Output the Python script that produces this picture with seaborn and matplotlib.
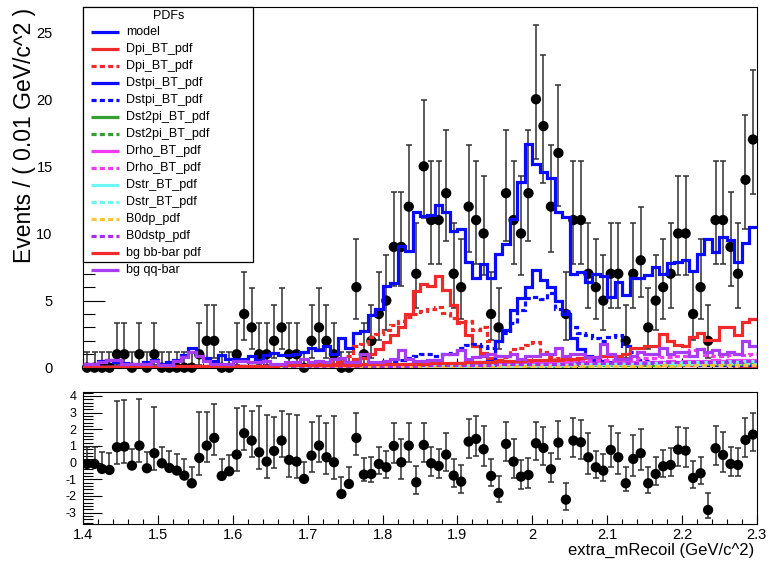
import math
import numpy as np
import pandas as pd
import matplotlib
matplotlib.use("Agg")
import matplotlib.pyplot as plt
from matplotlib.patches import Rectangle
from matplotlib.ticker import MultipleLocator, FuncFormatter
import seaborn as sns

# ---------------------------------------------------------------- binning
X_MIN, X_MAX, N_BINS = 1.4, 2.3, 90

# ---------------------------------------------------------------- data (events per 0.01 GeV/c^2)
counts = [0, 0, 0, 0, 1, 1, 0, 1, 0, 1,
          0, 0, 0, 0, 0, 1, 2, 2, 0, 0,
          1, 4, 3, 1, 1, 2, 3, 1, 1, 0,
          2, 3, 2, 1, 0, 0, 6, 1, 2, 4,
          5, 9, 9, 12, 7, 15, 11, 11, 13, 7,
          6, 12, 11, 10, 4, 3, 13, 11, 10, 13,
          20, 18, 12, 16, 4, 11, 11, 7, 6, 5,
          7, 7, 2, 7, 8, 3, 5, 6, 7, 10,
          10, 4, 6, 2, 11, 11, 9, 7, 14, 17]

# pull of data w.r.t. the total model
pulls = [-0.08, -0.08, -0.38, -0.44, 0.92, 0.96, -0.18, 1.02, -0.34, 0.56,
         -0.04, -0.32, -0.48, -0.78, -1.24, 0.28, 1.02, 1.48, -0.80, -0.52,
         0.48, 1.76, 1.32, 0.62, 0.06, 0.70, 1.32, 0.16, 0.06, -0.98,
         0.42, 1.02, 0.32, 0.02, -1.88, -1.28, 1.48, -0.72, -0.68, -0.08,
         -0.28, 1.00, 0.02, 1.02, -1.18, 1.06, -0.04, -0.20, 0.48, -0.78,
         -1.14, 1.26, 1.42, 0.80, -0.80, -1.82, 1.12, 0.06, -0.84, -0.74,
         1.16, 0.88, -0.40, 1.20, -2.22, 1.32, 1.22, 0.32, -0.28, -0.48,
         0.76, 0.32, -1.24, 0.22, 0.56, -1.24, -0.68, -0.22, -0.14, 0.78,
         0.72, -0.92, -0.64, -2.84, 0.86, 0.46, -0.08, -0.14, 1.36, 1.68]

# ---------------------------------------------------------------- fitted pdfs (per bin)
model = [0.30, 0.30, 0.50, 0.55, 0.45, 0.35, 0.30, 0.30, 0.40, 0.55,
         0.30, 0.40, 0.60, 0.95, 1.45, 0.85, 0.70, 0.50, 0.95, 0.65,
         0.65, 0.65, 0.90, 0.55, 0.95, 1.10, 0.95, 0.95, 1.00, 1.15,
         1.45, 1.35, 1.60, 1.00, 2.20, 1.50, 2.60, 2.70, 3.90, 4.40,
         6.10, 6.30, 9.10, 8.70, 11.6, 11.3, 11.4, 12.1, 11.6, 10.2,
         10.3, 7.90, 6.70, 7.70, 6.70, 8.50, 9.20, 11.1, 13.8, 16.7,
         15.2, 14.6, 14.1, 11.6, 11.2, 7.00, 7.10, 6.40, 7.00, 6.80,
         5.30, 6.40, 5.40, 6.70, 6.70, 6.90, 7.50, 7.00, 7.80, 7.90,
         8.00, 7.20, 8.50, 9.60, 8.60, 9.70, 9.50, 7.90, 9.30, 10.5]

dpi_solid = [0.05, 0.05, 0.05, 0.05, 0.05, 0.06, 0.06, 0.06, 0.07, 0.07,
             0.07, 0.08, 0.08, 0.08, 0.09, 0.09, 0.10, 0.10, 0.10, 0.11,
             0.11, 0.12, 0.12, 0.13, 0.13, 0.14, 0.15, 0.16, 0.17, 0.18,
             0.20, 0.25, 0.30, 0.30, 0.40, 0.45, 0.65, 0.75, 1.00, 1.40,
             1.90, 2.40, 3.00, 4.00, 5.70, 6.20, 6.10, 6.80, 5.80, 4.70,
             3.40, 2.40, 1.60, 1.10, 0.70, 0.55, 0.50, 0.45, 0.45, 0.40,
             0.40, 0.38, 0.36, 0.35, 0.34, 0.33, 0.32, 0.31, 0.30, 0.29,
             0.28, 0.27, 0.26, 0.25, 0.25, 0.24, 0.23, 0.22, 0.22, 0.21,
             0.20, 0.20, 0.19, 0.19, 0.18, 0.18, 0.17, 0.17, 0.16, 0.16]

dpi_dashed = [0.03, 0.03, 0.03, 0.04, 0.04, 0.04, 0.04, 0.05, 0.05, 0.05,
              0.06, 0.06, 0.06, 0.07, 0.07, 0.08, 0.08, 0.09, 0.09, 0.10,
              0.10, 0.11, 0.12, 0.12, 0.13, 0.14, 0.15, 0.16, 0.18, 0.20,
              0.22, 0.25, 0.30, 0.40, 0.60, 0.90, 1.60, 1.80, 2.30, 2.50,
              2.80, 3.20, 3.50, 3.80, 4.00, 4.20, 4.40, 4.50, 4.10, 3.70,
              3.30, 3.50, 2.80, 3.00, 2.00, 0.90, 0.80, 1.40, 1.50, 1.70,
              1.90, 1.20, 0.80, 0.70, 0.60, 0.50, 0.50, 0.40, 0.40, 0.35,
              0.30, 0.30, 0.28, 0.27, 0.26, 0.25, 0.24, 0.23, 0.22, 0.21,
              0.20, 0.20, 0.19, 0.18, 0.18, 0.17, 0.17, 0.16, 0.16, 0.15]

dstpi_solid = [0.03, 0.03, 0.03, 0.03, 0.04, 0.04, 0.04, 0.04, 0.05, 0.05,
               0.05, 0.05, 0.06, 0.06, 0.06, 0.07, 0.07, 0.07, 0.08, 0.08,
               0.08, 0.09, 0.09, 0.10, 0.10, 0.10, 0.11, 0.11, 0.12, 0.12,
               0.13, 0.13, 0.14, 0.15, 0.15, 0.16, 0.17, 0.18, 0.19, 0.20,
               0.21, 0.22, 0.23, 0.24, 0.25, 0.26, 0.27, 0.28, 0.30, 0.30,
               0.32, 0.35, 0.40, 0.40, 0.50, 2.00, 2.80, 4.30, 5.20, 6.00,
               7.30, 6.50, 6.00, 5.00, 4.00, 2.20, 1.40, 0.90, 0.60, 0.50,
               0.45, 0.40, 0.38, 0.35, 0.33, 0.30, 0.29, 0.28, 0.27, 0.26,
               0.25, 0.24, 0.23, 0.22, 0.21, 0.20, 0.20, 0.19, 0.18, 0.18]

dstpi_dashed = [0.05, 0.05, 0.05, 0.05, 0.06, 0.06, 0.06, 0.07, 0.07, 0.07,
                0.08, 0.08, 0.08, 0.09, 0.09, 0.10, 0.10, 0.10, 0.11, 0.11,
                0.12, 0.12, 0.13, 0.13, 0.14, 0.14, 0.15, 0.16, 0.16, 0.17,
                0.18, 0.19, 0.20, 0.21, 0.22, 0.24, 0.26, 0.28, 0.30, 0.35,
                0.40, 0.50, 0.60, 0.70, 0.90, 1.00, 1.00, 0.90, 1.00, 1.10,
                1.50, 1.70, 1.80, 1.60, 1.50, 2.00, 2.60, 3.30, 4.30, 5.20,
                5.30, 5.10, 5.60, 4.40, 4.20, 3.00, 2.60, 2.40, 2.20, 2.00,
                2.30, 2.40, 1.60, 1.20, 0.60, 0.50, 0.45, 0.40, 0.38, 0.36,
                0.35, 0.34, 0.33, 0.32, 0.31, 0.30, 0.30, 0.29, 0.28, 0.28]

dst2pi_solid = [0.01, 0.01, 0.02, 0.01, 0.01, 0.02, 0.01, 0.02, 0.02, 0.01,
                0.02, 0.02, 0.03, 0.02, 0.03, 0.02, 0.03, 0.03, 0.02, 0.04,
                0.03, 0.04, 0.03, 0.05, 0.04, 0.04, 0.06, 0.05, 0.04, 0.06,
                0.05, 0.07, 0.06, 0.05, 0.08, 0.07, 0.06, 0.09, 0.08, 0.07,
                0.10, 0.09, 0.08, 0.11, 0.10, 0.12, 0.10, 0.13, 0.11, 0.12,
                0.14, 0.12, 0.15, 0.13, 0.16, 0.14, 0.17, 0.15, 0.18, 0.16,
                0.19, 0.17, 0.20, 0.18, 0.22, 0.20, 0.23, 0.21, 0.25, 0.22,
                0.26, 0.24, 0.28, 0.25, 0.30, 0.27, 0.31, 0.29, 0.33, 0.30,
                0.35, 0.32, 0.37, 0.34, 0.39, 0.36, 0.42, 0.38, 0.44, 0.41]

dst2pi_dashed = [0.01, 0.01, 0.01, 0.01, 0.01, 0.01, 0.02, 0.01, 0.01, 0.02,
                 0.01, 0.02, 0.02, 0.01, 0.02, 0.02, 0.02, 0.03, 0.02, 0.02,
                 0.03, 0.02, 0.03, 0.03, 0.04, 0.03, 0.03, 0.04, 0.04, 0.03,
                 0.05, 0.04, 0.04, 0.06, 0.05, 0.05, 0.07, 0.05, 0.06, 0.07,
                 0.06, 0.08, 0.07, 0.07, 0.09, 0.08, 0.09, 0.10, 0.08, 0.10,
                 0.11, 0.09, 0.11, 0.12, 0.10, 0.13, 0.12, 0.11, 0.14, 0.13,
                 0.13, 0.15, 0.14, 0.16, 0.15, 0.14, 0.17, 0.16, 0.18, 0.17,
                 0.19, 0.18, 0.20, 0.19, 0.22, 0.20, 0.23, 0.22, 0.24, 0.23,
                 0.26, 0.24, 0.27, 0.26, 0.29, 0.27, 0.30, 0.29, 0.32, 0.30]

drho_solid = [0.02, 0.02, 0.03, 0.02, 0.03, 0.03, 0.02, 0.03, 0.04, 0.03,
              0.04, 0.03, 0.04, 0.05, 0.04, 0.05, 0.05, 0.04, 0.06, 0.05,
              0.06, 0.07, 0.06, 0.07, 0.08, 0.07, 0.09, 0.08, 0.09, 0.10,
              0.10, 0.11, 0.12, 0.11, 0.13, 0.14, 0.13, 0.15, 0.16, 0.15,
              0.17, 0.18, 0.17, 0.19, 0.20, 0.21, 0.20, 0.22, 0.23, 0.22,
              0.24, 0.25, 0.26, 0.25, 0.27, 0.28, 0.27, 0.29, 0.30, 0.29,
              0.31, 0.32, 0.31, 0.33, 0.34, 0.35, 0.33, 0.36, 0.37, 0.36,
              0.38, 0.40, 0.39, 0.41, 0.43, 0.42, 0.45, 0.44, 0.47, 0.46,
              0.49, 0.48, 0.52, 0.50, 0.54, 0.53, 0.56, 0.55, 0.58, 0.60]

drho_dashed = [0.02, 0.02, 0.02, 0.03, 0.02, 0.03, 0.03, 0.02, 0.03, 0.03,
               0.03, 0.04, 0.03, 0.04, 0.04, 0.05, 0.04, 0.05, 0.05, 0.06,
               0.05, 0.06, 0.07, 0.06, 0.07, 0.08, 0.07, 0.08, 0.09, 0.09,
               0.10, 0.10, 0.11, 0.12, 0.12, 0.13, 0.14, 0.14, 0.15, 0.16,
               0.17, 0.18, 0.19, 0.20, 0.21, 0.22, 0.23, 0.24, 0.25, 0.26,
               0.28, 0.30, 0.35, 0.40, 0.38, 0.35, 0.33, 0.35, 0.40, 0.45,
               0.42, 0.40, 0.38, 0.40, 0.45, 0.48, 0.50, 0.55, 0.60, 0.58,
               0.55, 0.60, 0.65, 0.62, 0.70, 0.75, 0.72, 0.80, 0.78, 0.85,
               0.90, 1.30, 1.40, 0.95, 0.90, 0.85, 0.95, 1.00, 0.95, 1.05]

dstr_solid = [0.01, 0.01, 0.01, 0.02, 0.01, 0.02, 0.02, 0.01, 0.02, 0.02,
              0.02, 0.03, 0.02, 0.03, 0.03, 0.03, 0.04, 0.03, 0.04, 0.04,
              0.05, 0.04, 0.05, 0.05, 0.06, 0.05, 0.06, 0.07, 0.06, 0.07,
              0.08, 0.07, 0.08, 0.09, 0.08, 0.10, 0.09, 0.10, 0.11, 0.10,
              0.12, 0.11, 0.12, 0.13, 0.12, 0.14, 0.13, 0.15, 0.14, 0.16,
              0.15, 0.17, 0.16, 0.18, 0.17, 0.19, 0.18, 0.20, 0.21, 0.20,
              0.22, 0.21, 0.23, 0.24, 0.23, 0.25, 0.26, 0.25, 0.27, 0.28,
              0.29, 0.30, 0.29, 0.31, 0.33, 0.32, 0.34, 0.36, 0.35, 0.37,
              0.39, 0.38, 0.41, 0.43, 0.42, 0.45, 0.47, 0.46, 0.49, 0.52]

dstr_dashed = [0.01, 0.01, 0.01, 0.01, 0.01, 0.01, 0.01, 0.02, 0.01, 0.01,
               0.02, 0.02, 0.02, 0.02, 0.02, 0.03, 0.02, 0.03, 0.03, 0.03,
               0.03, 0.04, 0.03, 0.04, 0.04, 0.04, 0.05, 0.04, 0.05, 0.05,
               0.06, 0.05, 0.06, 0.06, 0.07, 0.06, 0.07, 0.08, 0.07, 0.08,
               0.09, 0.08, 0.09, 0.10, 0.09, 0.11, 0.10, 0.11, 0.12, 0.11,
               0.13, 0.12, 0.13, 0.14, 0.13, 0.15, 0.14, 0.16, 0.15, 0.17,
               0.16, 0.18, 0.17, 0.19, 0.18, 0.20, 0.19, 0.21, 0.22, 0.21,
               0.23, 0.22, 0.24, 0.25, 0.24, 0.26, 0.27, 0.26, 0.28, 0.29,
               0.30, 0.29, 0.31, 0.33, 0.32, 0.34, 0.35, 0.34, 0.36, 0.38]

b0dp = [0.01, 0.01, 0.01, 0.01, 0.01, 0.01, 0.01, 0.01, 0.01, 0.01,
        0.01, 0.01, 0.02, 0.01, 0.02, 0.01, 0.02, 0.02, 0.01, 0.02,
        0.02, 0.02, 0.02, 0.03, 0.02, 0.03, 0.02, 0.03, 0.03, 0.03,
        0.03, 0.04, 0.03, 0.04, 0.04, 0.04, 0.05, 0.04, 0.05, 0.05,
        0.05, 0.06, 0.05, 0.06, 0.06, 0.07, 0.06, 0.07, 0.07, 0.08,
        0.07, 0.08, 0.08, 0.09, 0.08, 0.09, 0.10, 0.09, 0.10, 0.10,
        0.11, 0.10, 0.11, 0.12, 0.11, 0.12, 0.13, 0.12, 0.13, 0.14,
        0.13, 0.14, 0.15, 0.14, 0.15, 0.16, 0.15, 0.17, 0.16, 0.17,
        0.18, 0.17, 0.19, 0.18, 0.20, 0.19, 0.21, 0.20, 0.22, 0.21]

b0dstp = [0.02, 0.02, 0.03, 0.02, 0.03, 0.02, 0.03, 0.03, 0.02, 0.03,
          0.03, 0.04, 0.03, 0.04, 0.04, 0.03, 0.05, 0.04, 0.05, 0.04,
          0.05, 0.06, 0.05, 0.06, 0.07, 0.06, 0.07, 0.08, 0.07, 0.08,
          0.09, 0.08, 0.10, 0.09, 0.11, 0.10, 0.12, 0.11, 0.13, 0.12,
          0.14, 0.13, 0.15, 0.16, 0.15, 0.17, 0.18, 0.17, 0.19, 0.20,
          0.21, 0.20, 0.22, 0.23, 0.22, 0.24, 0.25, 0.24, 0.26, 0.27,
          0.28, 0.27, 0.29, 0.30, 0.31, 0.30, 0.32, 0.33, 0.32, 0.34,
          0.35, 0.36, 0.35, 0.37, 0.38, 0.37, 0.39, 0.40, 0.41, 0.40,
          0.42, 0.43, 0.44, 0.43, 0.45, 0.46, 0.47, 0.46, 0.48, 0.50]

bg_bbbar = [0.05, 0.05, 0.05, 0.05, 0.06, 0.06, 0.07, 0.07, 0.08, 0.08,
            0.09, 0.09, 0.10, 0.10, 0.11, 0.11, 0.12, 0.12, 0.13, 0.13,
            0.14, 0.14, 0.15, 0.15, 0.16, 0.16, 0.17, 0.17, 0.18, 0.18,
            0.19, 0.20, 0.20, 0.21, 0.22, 0.22, 0.23, 0.24, 0.25, 0.25,
            0.26, 0.27, 0.28, 0.29, 0.30, 0.30, 0.32, 0.33, 0.34, 0.35,
            0.38, 0.40, 0.42, 0.45, 0.45, 0.48, 0.50, 0.50, 0.52, 0.55,
            0.55, 0.58, 0.60, 0.60, 0.62, 0.65, 0.70, 0.80, 0.80, 0.90,
            0.90, 0.90, 1.00, 1.50, 1.50, 1.60, 1.60, 2.50, 2.00, 1.70,
            1.60, 2.30, 2.60, 2.10, 2.10, 3.00, 3.00, 2.40, 3.40, 3.60]

bg_qqbar = [0.27, 0.27, 0.45, 0.57, 0.57, 0.27, 0.27, 0.27, 0.27, 0.50,
            0.20, 0.20, 0.50, 0.80, 1.15, 0.90, 0.50, 0.27, 0.27, 0.27,
            0.50, 0.50, 0.40, 0.40, 0.50, 0.30, 0.30, 0.40, 0.40, 0.65,
            0.40, 0.50, 0.40, 0.65, 0.70, 0.40, 0.40, 1.00, 0.40, 0.40,
            0.50, 0.65, 1.30, 0.65, 0.50, 0.50, 0.55, 0.60, 1.00, 1.00,
            1.30, 0.65, 0.80, 0.90, 1.00, 0.90, 0.90, 1.00, 0.65, 0.90,
            0.90, 1.00, 1.00, 1.50, 0.90, 1.00, 1.00, 0.80, 0.80, 1.80,
            1.00, 0.65, 0.65, 0.90, 1.15, 1.00, 1.00, 1.50, 1.00, 1.15,
            1.15, 0.90, 1.40, 1.15, 1.30, 1.00, 1.15, 1.00, 2.00, 1.65]

# ---------------------------------------------------------------- style
BLUE, RED, GREEN = "#0a0aff", "#f02a2a", "#35a030"
MAGENTA, CYAN, ORANGE = "#f03cf0", "#6ef5f5", "#ffc23a"
PURPLE_D, PURPLE = "#a82cf0", "#a83cf5"
SOLID, DASHED = "-", (0, (1.6, 1.0))

components = [
    ("model", model, BLUE, SOLID),
    ("Dpi_BT_pdf", dpi_solid, RED, SOLID),
    ("Dpi_BT_pdf", dpi_dashed, RED, DASHED),
    ("Dstpi_BT_pdf", dstpi_solid, BLUE, SOLID),
    ("Dstpi_BT_pdf", dstpi_dashed, BLUE, DASHED),
    ("Dst2pi_BT_pdf", dst2pi_solid, GREEN, SOLID),
    ("Dst2pi_BT_pdf", dst2pi_dashed, GREEN, DASHED),
    ("Drho_BT_pdf", drho_solid, MAGENTA, SOLID),
    ("Drho_BT_pdf", drho_dashed, MAGENTA, DASHED),
    ("Dstr_BT_pdf", dstr_solid, CYAN, SOLID),
    ("Dstr_BT_pdf", dstr_dashed, CYAN, DASHED),
    ("B0dp_pdf", b0dp, ORANGE, DASHED),
    ("B0dstp_pdf", b0dstp, PURPLE_D, DASHED),
    ("bg bb-bar pdf", bg_bbbar, RED, SOLID),
    ("bg qq-bar", bg_qqbar, PURPLE, SOLID),
]

sns.set_theme(style="ticks")
plt.rcParams["font.family"] = ["Liberation Sans", "DejaVu Sans"]
plt.rcParams.update({
    "axes.edgecolor": "black", "axes.linewidth": 0.8,
    "text.color": "black", "axes.labelcolor": "black",
    "xtick.color": "black", "ytick.color": "black",
    "axes.unicode_minus": False,
})

edges = np.linspace(X_MIN, X_MAX, N_BINS + 1)
centers = 0.5 * (edges[:-1] + edges[1:])


def poisson_interval(n, cl=0.682689):
    """Central Poisson interval; one-sided upper limit for an empty bin."""
    alpha = 1.0 - cl
    if n == 0:
        return 0.0, -math.log(alpha)

    def cdf(k, mu):
        term = math.exp(-mu)
        s = term
        for j in range(1, k + 1):
            term *= mu / j
            s += term
        return s

    def solve(f, target, lo, hi):
        for _ in range(80):
            mid = 0.5 * (lo + hi)
            if f(mid) > target:
                lo = mid
            else:
                hi = mid
        return 0.5 * (lo + hi)

    upper = solve(lambda m: cdf(n, m), alpha / 2, float(n), n + 60.0)
    lower = solve(lambda m: cdf(n - 1, m), 1 - alpha / 2, 0.0, float(n))
    return lower, upper


intervals = [poisson_interval(n) for n in counts]
err_lo = np.array([n - lo for n, (lo, up) in zip(counts, intervals)])
err_hi = np.array([up - n for n, (lo, up) in zip(counts, intervals)])

pull_lo, pull_hi = [], []
for p, elo, ehi in zip(pulls, err_lo, err_hi):
    if p >= 0:
        pull_lo.append(1.0)
        pull_hi.append(ehi / elo)
    else:
        pull_lo.append(elo / ehi)
        pull_hi.append(1.0)

df = pd.DataFrame({"x": centers, "n": counts, "pull": pulls})

# ---------------------------------------------------------------- figure
W, H = 780, 562
fig = plt.figure(figsize=(W / 100, H / 100), dpi=100)
L, R = 83.3, 756.7
ax = fig.add_axes([L / W, 1 - 367.7 / H, (R - L) / W, (367.7 - 7.3) / H])
axp = fig.add_axes([L / W, 1 - 524.0 / H, (R - L) / W, (524.0 - 391.7) / H])

# data with Poisson errors
ax.errorbar(df["x"], df["n"], yerr=[err_lo, err_hi], fmt="none",
            ecolor="#303030", elinewidth=1.1, capsize=2.2, capthick=1.1,
            zorder=2, clip_on=False)
sns.scatterplot(data=df, x="x", y="n", ax=ax, color="black", s=55,
                edgecolor="none", zorder=3, clip_on=False, legend=False)

# pdf curves
for k, (label, vals, color, ls) in enumerate(components):
    ax.stairs(vals, edges, baseline=None, color=color, lw=2.3,
              linestyle=ls, zorder=4 + k)

ax.set_xlim(X_MIN, X_MAX)
ax.set_ylim(0, 26.85)
ax.set_xlabel("")
ax.set_ylabel("")
ax.xaxis.set_major_locator(MultipleLocator(0.1))
ax.xaxis.set_minor_locator(MultipleLocator(0.02))
ax.yaxis.set_major_locator(MultipleLocator(5))
ax.yaxis.set_minor_locator(MultipleLocator(1))
ax.tick_params(which="both", direction="in", top=False, right=False,
               labelbottom=False, width=0.8)
ax.tick_params(axis="x", which="major", length=7)
ax.tick_params(axis="x", which="minor", length=3.5)
ax.tick_params(axis="y", which="major", length=15.5, labelsize=10.5, pad=22)
ax.tick_params(axis="y", which="minor", length=8.5)

# legend box
box_right = (253.0 - L) / (R - L)
box_bottom = (367.7 - 261.7) / (367.7 - 7.3)
ax.add_patch(Rectangle((0, box_bottom), box_right, 1 - box_bottom,
                       transform=ax.transAxes, facecolor="white",
                       edgecolor="black", lw=0.9, zorder=30, clip_on=False))


def ax_y(py):
    return (367.7 - py) / (367.7 - 7.3)


def ax_x(px):
    return (px - L) / (R - L)


ax.text(ax_x(168.5), ax_y(15.7), "PDFs", transform=ax.transAxes,
        ha="center", va="center", fontsize=9, zorder=31)
for k, (label, vals, color, ls) in enumerate(components):
    yy = ax_y(32.3 + 17.0 * k)
    ax.plot([ax_x(90.5), ax_x(119.0)], [yy, yy], transform=ax.transAxes,
            color=color, lw=2.3, linestyle=ls, zorder=31, clip_on=False,
            solid_capstyle="butt", dash_capstyle="butt")
    ax.text(ax_x(125.7), yy, label, transform=ax.transAxes, ha="left",
            va="center", fontsize=9, zorder=31)

# pull panel
axp.errorbar(df["x"], df["pull"], yerr=[pull_lo, pull_hi], fmt="none",
             ecolor="#303030", elinewidth=1.1, capsize=2.2, capthick=1.1,
             zorder=2)
sns.scatterplot(data=df, x="x", y="pull", ax=axp, color="black", s=55,
                edgecolor="none", zorder=3, legend=False)
axp.set_xlim(X_MIN, X_MAX)
axp.set_ylim(-3.68, 4.25)
axp.set_xlabel("")
axp.set_ylabel("")
axp.xaxis.set_major_locator(MultipleLocator(0.1))
axp.xaxis.set_minor_locator(MultipleLocator(0.02))
axp.yaxis.set_major_locator(MultipleLocator(1))
axp.yaxis.set_minor_locator(MultipleLocator(0.2))
axp.xaxis.set_major_formatter(FuncFormatter(lambda v, p: f"{round(v, 2):g}"))
axp.yaxis.set_major_formatter(FuncFormatter(lambda v, p: f"{round(v):d}"))
axp.tick_params(which="both", direction="in", top=False, right=False, width=0.8)
axp.tick_params(axis="x", which="major", length=6.5, labelsize=10.5, pad=3)
axp.tick_params(axis="x", which="minor", length=3.5)
axp.tick_params(axis="y", which="major", length=14, labelsize=9, pad=5)
axp.tick_params(axis="y", which="minor", length=7)

fig.text(25 / W, 1 - 8 / H, "Events / ( 0.01 GeV/c^2 )", rotation=90,
         ha="center", va="top", fontsize=16.5)
fig.text(754 / W, 1 - 550 / H, "extra_mRecoil (GeV/c^2)", ha="right",
         va="center", fontsize=12)

fig.savefig("out.png", dpi=100)
